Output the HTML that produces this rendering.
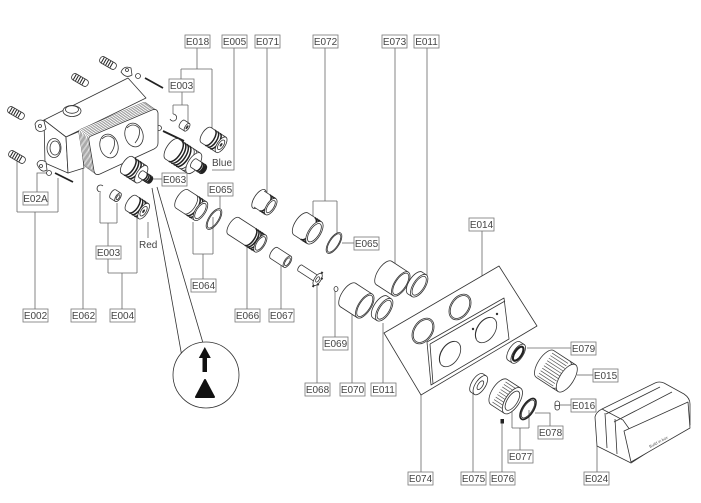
<!DOCTYPE html>
<html><head><meta charset="utf-8"><style>
html,body{margin:0;padding:0;background:#fff;}
svg{display:block;}
.p{fill:#fff;stroke:#333;stroke-width:0.8;stroke-linejoin:round}
.n{fill:none;stroke:#333;stroke-width:0.8}
.k{fill:none;stroke:#222;stroke-width:1.5}
.l{fill:none;stroke:#666;stroke-width:0.8}
.b{fill:#fff;stroke:#777;stroke-width:0.8}
.r{fill:#fff;stroke:#555;stroke-width:0.5;stroke-linejoin:round}
text{font-family:"Liberation Sans",sans-serif;font-size:10px;fill:#444}
</style></head><body>
<svg width="701" height="503" viewBox="0 0 701 503" xmlns="http://www.w3.org/2000/svg">
<defs>
<path id="cov" d="M91,136 L152,110 Q157,108 158,113 L158,143 Q158,147 154,149 L100,174 Q95,176 94,171 L89,141 Q88,137 91,136 Z"/>
<g id="plug"><rect class="p" x="-9" y="-3.5" width="18" height="7" rx="3"/><path d="M-6,-3V3M-3.5,-3V3M-1,-3V3M1.5,-3V3M4,-3V3" stroke="#222" stroke-width="1"/></g>
</defs>
<rect width="701" height="503" fill="#fff"/>

<!-- ============ LEADER LINES ============ -->
<g class="l">
<path d="M197,48V69M181,69H212M181,69V79M212,69V133"/>
<path d="M234,48V170H212"/>
<path d="M182,92V105M173,105H188M173,105V114M188,105V122"/>
<path d="M267,48V193"/>
<path d="M325,48V201M313,201H337M313,201V217M337,201V234"/>
<path d="M395,48V268"/>
<path d="M427,48V283"/>
<path d="M162,179H153"/>
<path d="M220,196V208"/>
<path d="M203,279V254M193,254H213M193,254V222M213,254V217"/>
<path d="M354,243H342"/>
<path d="M247,309V238"/>
<path d="M281,309V263"/>
<path d="M37,192V173H49"/>
<path d="M35,309V212M17,212H58M17,212V160M58,212V178"/>
<path d="M83,309V168"/>
<path d="M122,309V273M108,273H137M108,273V259M137,273V217"/>
<path d="M108,246V223M100,223H117M100,223V193M117,223V203"/>
<path d="M148,222V238"/>
<path d="M482,231V298H470"/>
<path d="M335,337V290"/>
<path d="M317,383V283"/>
<path d="M352,383V305"/>
<path d="M383,383V323"/>
<path d="M421,472V395"/>
<path d="M473,472V386"/>
<path d="M502,472V423"/>
<path d="M520,450V428M512,428H529M512,428V407M529,428V410"/>
<path d="M550,426V413H535"/>
<path d="M571,348H527"/>
<path d="M593,375H577"/>
<path d="M571,405H560"/>
<path d="M597,472V445"/>
</g>
<!-- callout lines -->
<path class="n" d="M152,188L182,357M157,187L203,343" stroke="#444"/>

<!-- ============ HOUSING ============ -->
<use href="#plug" transform="translate(108,63) rotate(30)"/>
<use href="#plug" transform="translate(80,80) rotate(30)"/>
<use href="#plug" transform="translate(16,113) rotate(30)"/>
<use href="#plug" transform="translate(17,157) rotate(30)"/>
<!-- screws -->
<path d="M145,78L163,88" stroke="#222" stroke-width="1.8"/>
<path d="M50,127L69,137" stroke="#222" stroke-width="1.8"/>
<path d="M163,131L184,141" stroke="#222" stroke-width="1.8"/>
<path d="M55,173L73,182" stroke="#222" stroke-width="1.8"/>
<circle class="p" cx="138" cy="76" r="2.5"/>
<circle class="p" cx="159" cy="128" r="2.5"/>
<circle class="p" cx="49" cy="173" r="2.5"/>

<!-- body -->
<polygon class="p" points="44,120 128,78 146,98 66,137"/>
<polygon class="p" points="44,120 66,137 68,173 45,163"/>
<polygon class="p" points="66,137 80,131 84,168 68,173"/>
<!-- ears -->
<path class="p" d="M35,124 q3,-6 9,-3 l2,8 q-6,5 -10,0z"/>
<circle class="n" cx="40" cy="126" r="1.5"/>
<path class="p" d="M121,72 q3,-7 10,-4 l1,7 q-6,4 -11,-3z"/>
<circle class="n" cx="127" cy="70" r="1.5"/>
<path class="p" d="M37,164 q2,-6 9,-2 l1,8 q-6,4 -10,-6z"/>
<circle class="n" cx="41" cy="166" r="1.5"/>
<!-- top boss -->
<ellipse class="p" cx="72" cy="111" rx="9" ry="5.5"/>
<ellipse class="n" cx="72" cy="109.5" rx="6.5" ry="3.8"/>
<!-- left port -->
<ellipse class="p" cx="54" cy="148" rx="7" ry="9.5"/>
<ellipse class="n" cx="55" cy="148" rx="5" ry="7"/>

<!-- ribbed cover -->
<use href="#cov" class="r" transform="translate(-10,-7)"/>
<use href="#cov" class="r" transform="translate(-8.6,-6)"/>
<use href="#cov" class="r" transform="translate(-7.2,-5)"/>
<use href="#cov" class="r" transform="translate(-5.8,-4)"/>
<use href="#cov" class="r" transform="translate(-4.4,-3)"/>
<use href="#cov" class="r" transform="translate(-3,-2)"/>
<use href="#cov" class="r" transform="translate(-1.5,-1)"/>
<use href="#cov" class="p"/>
<ellipse class="p" cx="109" cy="146" rx="9" ry="12" transform="rotate(-15 109 146)"/>
<path class="n" d="M102,139 q6,-6 12,0 q2,8 -4,15"/>
<ellipse class="p" cx="134" cy="135" rx="9" ry="12" transform="rotate(-15 134 135)"/>
<path class="n" d="M127,128 q6,-6 12,0 q2,8 -4,15"/>

<!-- ============ CARTRIDGES ============ -->
<path class="n" d="M173,114 a3.5,3.5 0 1 1 -3,5" stroke-width="1"/>
<g transform="translate(182,124) rotate(33)"><ellipse class="p" rx="2" ry="4.5"/><rect y="-4.5" width="6" height="9" fill="#fff"/><path class="n" d="M0,-4.5H6M0,4.5H6"/><ellipse class="p" cx="6" rx="2" ry="4.5"/><ellipse cx="6" rx="1" ry="2.2" fill="#333"/></g>

<!-- E018 -->
<g transform="translate(206,135) rotate(33)"><ellipse class="p" rx="4" ry="9"/><rect y="-9" width="18" height="18" fill="#fff"/><path class="n" d="M0,-9H18M0,9H18"/>
<path class="k" d="M5,-9A4,9 0 0 1 5,9M8,-9A4,9 0 0 1 8,9M11,-9A4,9 0 0 1 11,9"/>
<ellipse class="p" cx="18" rx="4" ry="9"/><ellipse class="n" cx="18" rx="2.5" ry="5.5"/><ellipse cx="18" rx="1" ry="2" fill="#333"/></g>

<!-- E005 -->
<g transform="translate(172,149) rotate(33)"><ellipse class="p" rx="5.5" ry="12"/><rect y="-12" width="26" height="24" fill="#fff"/><path class="n" d="M0,-12H26M0,12H26"/>
<path class="k" d="M4,-12A5.5,12 0 0 1 4,12M7,-12A5.5,12 0 0 1 7,12M10,-12A5.5,12 0 0 1 10,12M13,-12A5.5,12 0 0 1 13,12"/>
<path class="n" d="M17,-12A5.5,12 0 0 1 17,12M20,-12A5.5,12 0 0 1 20,12"/>
<ellipse class="p" cx="26" rx="5.5" ry="12"/>
<ellipse class="p" cx="26" rx="2.3" ry="5"/><rect x="26" y="-5" width="12" height="10" fill="#fff"/><path class="n" d="M26,-5H38M26,5H38"/>
<path class="k" d="M32,-5A2.3,5 0 0 1 32,5M34,-5A2.3,5 0 0 1 34,5M36,-5A2.3,5 0 0 1 36,5" stroke-width="1.2"/>
<ellipse cx="38" rx="2.3" ry="5" fill="#222"/></g>
<text x="212" y="166">Blue</text>

<!-- E063 -->
<g transform="translate(127,165) rotate(33)"><ellipse class="p" rx="4.5" ry="10"/><rect y="-10" width="17" height="20" fill="#fff"/><path class="n" d="M0,-10H17M0,10H17"/>
<path class="k" d="M3,-10A4.5,10 0 0 1 3,10M6,-10A4.5,10 0 0 1 6,10M9,-10A4.5,10 0 0 1 9,10"/>
<path class="n" d="M12,-10A4.5,10 0 0 1 12,10"/>
<ellipse class="p" cx="17" rx="4.5" ry="10"/>
<ellipse class="p" cx="17" rx="2" ry="4"/><rect x="17" y="-4" width="11" height="8" fill="#fff"/><path class="n" d="M17,-4H28M17,4H28"/>
<path class="k" d="M21,-4A2,4 0 0 1 21,4M23,-4A2,4 0 0 1 23,4M25,-4A2,4 0 0 1 25,4" stroke-width="1.2"/>
<ellipse cx="28" rx="2" ry="4" fill="#222"/></g>

<!-- E003 lower -->
<path class="n" d="M103,186 a3.5,3.5 0 1 0 -2,6" stroke-width="1"/>
<g transform="translate(113,194) rotate(33)"><ellipse class="p" rx="2.3" ry="5"/><rect y="-5" width="6" height="10" fill="#fff"/><path class="n" d="M0,-5H6M0,5H6"/><ellipse class="p" cx="6" rx="2.3" ry="5"/><ellipse class="n" cx="6" rx="1.2" ry="2.8"/></g>

<!-- E004 red -->
<g transform="translate(131,203) rotate(33)"><ellipse class="p" rx="4" ry="9"/><rect y="-9" width="15" height="18" fill="#fff"/><path class="n" d="M0,-9H15M0,9H15"/>
<path class="k" d="M4,-9A4,9 0 0 1 4,9M7,-9A4,9 0 0 1 7,9M10,-9A4,9 0 0 1 10,9"/>
<ellipse class="p" cx="15" rx="4" ry="9"/><ellipse class="n" cx="15" rx="2.5" ry="5.5"/><ellipse cx="15" rx="1" ry="2" fill="#333"/></g>
<text x="139" y="248">Red</text>

<!-- ============ MIDDLE PARTS ============ -->
<g transform="translate(182,199) rotate(33)"><ellipse class="p" rx="5" ry="11"/><rect y="-11" width="22" height="22" fill="#fff"/><path class="n" d="M0,-11H22M0,11H22"/>
<path class="k" d="M13,-11A5,11 0 0 1 13,11M16,-11A5,11 0 0 1 16,11" stroke-width="1.3"/>
<path class="n" d="M10,-11A5,11 0 0 1 10,11"/>
<ellipse class="p" cx="22" rx="5" ry="11"/><ellipse class="n" cx="22" rx="3.8" ry="8.8"/></g>
<g transform="translate(214,219) rotate(33)"><ellipse class="n" rx="5.2" ry="12"/><ellipse class="n" rx="4.2" ry="10.5"/></g>

<g transform="translate(259,199) rotate(33)"><ellipse class="p" rx="4.8" ry="11"/><rect y="-9.5" width="14" height="19" fill="#fff"/><path class="n" d="M0,-9.5H14M0,9.5H14"/>
<path class="k" d="M7,-9.5A4.3,9.5 0 0 1 7,9.5M9.5,-9.5A4.3,9.5 0 0 1 9.5,9.5M12,-9.5A4.3,9.5 0 0 1 12,9.5" stroke-width="1.4"/>
<ellipse class="p" cx="14" rx="4.3" ry="9.5"/><ellipse class="n" cx="14" rx="3" ry="7"/></g>

<g transform="translate(233.5,226) rotate(33)"><ellipse class="p" rx="4.5" ry="10"/><rect y="-10" width="32" height="20" fill="#fff"/><path class="n" d="M0,-10H32M0,10H32"/>
<path class="k" d="M20,-10A4.5,10 0 0 1 20,10M22.5,-10A4.5,10 0 0 1 22.5,10M25,-10A4.5,10 0 0 1 25,10M27.5,-10A4.5,10 0 0 1 27.5,10" stroke-width="1.6"/>
<ellipse class="p" cx="32" rx="4.5" ry="10"/><ellipse class="n" cx="32" rx="3.4" ry="7.8"/></g>

<g transform="translate(274,253) rotate(33)"><ellipse class="p" rx="3" ry="6.5"/><rect y="-6.5" width="16" height="13" fill="#fff"/><path class="n" d="M0,-6.5H16M0,6.5H16"/>
<ellipse class="p" cx="16" rx="3" ry="6.5"/><ellipse class="n" cx="16" rx="2" ry="4.5"/></g>

<g transform="translate(300,268) rotate(33)"><ellipse class="p" rx="1.6" ry="3.5"/><rect y="-3.5" width="20" height="7" fill="#fff"/><path class="n" d="M0,-3.5H20M0,3.5H20"/>
<ellipse class="p" cx="21" rx="3.2" ry="7"/>
<path d="M20,-9h2v2h-2zM20,7h2v2h-2zM23,-4h2v2h-2zM23,3h2v2h-2z" fill="#333"/>
<ellipse class="n" cx="21" rx="1.5" ry="3"/></g>
<ellipse class="p" cx="336" cy="289" rx="2" ry="2.5"/>

<g transform="translate(301,224) rotate(33)"><ellipse class="p" rx="6" ry="13"/><rect y="-13" width="16" height="26" fill="#fff"/><path class="n" d="M0,-13H16M0,13H16"/>
<path class="k" d="M8,-13A6,13 0 0 1 8,13M10.5,-13A6,13 0 0 1 10.5,13M13,-13A6,13 0 0 1 13,13" stroke-width="1.4"/>
<ellipse class="p" cx="16" rx="6" ry="13"/><ellipse class="n" cx="16" rx="4.7" ry="10.5"/></g>
<g transform="translate(334,243) rotate(33)"><ellipse class="n" rx="5.2" ry="12"/><ellipse class="n" rx="4.3" ry="10.6"/></g>

<g transform="translate(384,273) rotate(33)"><ellipse class="p" rx="6.3" ry="14"/><rect y="-14" width="20" height="28" fill="#fff"/><path class="n" d="M0,-14H20M0,14H20"/>
<ellipse class="p" cx="20" rx="6.3" ry="14"/><ellipse class="n" cx="20" rx="5.3" ry="12.3"/></g>
<g transform="translate(415,283) rotate(33)"><ellipse class="p" rx="6" ry="13"/><rect y="-13" width="5" height="26" fill="#fff"/><path class="n" d="M0,-13H5M0,13H5"/>
<ellipse class="p" cx="5" rx="6" ry="13" stroke-width="1.2"/><ellipse class="n" cx="5" rx="4.8" ry="10.8" stroke-width="1.2"/></g>

<g transform="translate(348,295) rotate(33)"><ellipse class="p" rx="6.3" ry="14"/><rect y="-14" width="20" height="28" fill="#fff"/><path class="n" d="M0,-14H20M0,14H20"/>
<ellipse class="p" cx="20" rx="6.3" ry="14"/><ellipse class="n" cx="20" rx="5.3" ry="12.3"/></g>
<g transform="translate(380,307) rotate(33)"><ellipse class="p" rx="6" ry="13"/><rect y="-13" width="5" height="26" fill="#fff"/><path class="n" d="M0,-13H5M0,13H5"/>
<ellipse class="p" cx="5" rx="6" ry="13" stroke-width="1.2"/><ellipse class="n" cx="5" rx="4.8" ry="10.8" stroke-width="1.2"/></g>

<!-- ============ PLATES ============ -->
<polygon class="p" points="384,333 499,266 537,326 421,395"/>
<g transform="translate(460,307) rotate(33)"><ellipse class="n" rx="9.5" ry="14"/><ellipse class="n" rx="8.3" ry="12.6"/></g>
<g transform="translate(423,331) rotate(33)"><ellipse class="n" rx="9.5" ry="14"/><ellipse class="n" rx="8.3" ry="12.6"/></g>
<polygon class="p" points="427,342 504,298 509,339 431,385"/>
<path class="n" d="M430,344 L505,301 M430,344 L433,384"/>
<g transform="translate(450,354) rotate(33)"><ellipse class="p" rx="9" ry="14"/><path class="n" d="M-3,-13 A9,14 0 0 0 -3,13" stroke-width="1.3"/></g>
<g transform="translate(486,330) rotate(33)"><ellipse class="p" rx="9" ry="14"/><path class="n" d="M-3,-13 A9,14 0 0 0 -3,13" stroke-width="1.3"/></g>
<circle cx="473" cy="329" r="1.2" fill="#333"/>
<circle cx="497" cy="314" r="1.2" fill="#333"/>

<!-- ============ RIGHT PARTS ============ -->
<g transform="translate(514,351) rotate(33)"><ellipse class="p" rx="5" ry="11"/><rect y="-11" width="5" height="22" fill="#fff"/><path class="n" d="M0,-11H5M0,11H5"/>
<ellipse class="p" cx="5" rx="5" ry="11"/><ellipse cx="5" rx="3.6" ry="8" fill="none" stroke="#222" stroke-width="2.2"/></g>

<g transform="translate(545,364) rotate(33)"><ellipse class="p" rx="7" ry="16"/><rect y="-16" width="26" height="32" fill="#fff"/><path class="n" d="M0,-16H26M0,16H26"/>
<path d="M0,-13H19M0,-10H19M0,-7H19M0,-4H19M0,-1H19M0,2H19M0,5H19M0,8H19M0,11H19M0,14H19" stroke="#555" stroke-width="0.7"/>
<path class="n" d="M19,-16A7,16 0 0 1 19,16"/>
<ellipse class="p" cx="26" rx="7" ry="16"/></g>

<rect class="p" x="555" y="401" width="4.5" height="9" rx="2.2"/>
<path class="n" d="M555,405.5h4.5"/>

<g transform="translate(477,383) rotate(33)"><ellipse class="p" rx="5" ry="11"/><rect y="-11" width="4" height="22" fill="#fff"/><path class="n" d="M0,-11H4M0,11H4"/>
<ellipse class="p" cx="4" rx="5" ry="11"/><ellipse class="n" cx="4" rx="2.3" ry="5" stroke="#888"/></g>

<g transform="translate(499,392) rotate(33)"><ellipse class="p" rx="7" ry="15"/><rect y="-15" width="16" height="30" fill="#fff"/><path class="n" d="M0,-15H16M0,15H16"/>
<path d="M0,-12H16M0,-9H16M0,-6H16M0,-3H16M0,0H16M0,3H16M0,6H16M0,9H16M0,12H16" stroke="#555" stroke-width="0.7"/>
<ellipse class="p" cx="16" rx="7" ry="15"/><ellipse class="n" cx="16" rx="5" ry="11"/></g>
<g transform="translate(528,409) rotate(33)"><ellipse fill="none" stroke="#222" stroke-width="1.6" rx="5.5" ry="12"/><ellipse class="n" rx="4.3" ry="10.3"/></g>
<rect x="500.5" y="419" width="3.5" height="4.5" fill="#222"/>

<!-- E024 box -->
<path class="p" d="M595,417 Q596,412 602,409 L655,383 Q659,381 664,383 L684,394 Q690,398 690,404 L690,425 L631,463 L597,446 Z"/>
<path class="n" d="M602,409 L623,420 L630,430 M606,414 L660,387 M614,422 L672,392"/>
<path class="n" d="M605,413 L607,448 M615,419 L617,454"/>
<path class="p" d="M624,431 L688,402 L690,428 L631,462 Z" stroke="#222"/>
<text x="0" y="0" transform="translate(650,448) rotate(-28)" style="font-size:4px;fill:#555">Build in box</text>

<!-- ============ CALLOUT CIRCLE ============ -->
<circle cx="206" cy="375" r="33" class="p" stroke="#444"/>
<rect x="202.5" y="357" width="4.5" height="15" fill="#111"/>
<polygon points="204.8,347 198.8,358 210.8,358" fill="#111"/>
<polygon points="205,380 196,397 214,397" fill="#111" stroke="#111" stroke-width="2" stroke-linejoin="round"/>

<!-- ============ LABELS ============ -->
<g>
<rect class="b" x="185" y="35" width="25" height="13"/><text x="197.5" y="45" text-anchor="middle">E018</text>
<rect class="b" x="222" y="35" width="25" height="13"/><text x="234.5" y="45" text-anchor="middle">E005</text>
<rect class="b" x="255" y="35" width="25" height="13"/><text x="267.5" y="45" text-anchor="middle">E071</text>
<rect class="b" x="313" y="35" width="25" height="13"/><text x="325.5" y="45" text-anchor="middle">E072</text>
<rect class="b" x="382" y="35" width="25" height="13"/><text x="394.5" y="45" text-anchor="middle">E073</text>
<rect class="b" x="414" y="35" width="25" height="13"/><text x="426.5" y="45" text-anchor="middle">E011</text>
<rect class="b" x="169" y="79" width="25" height="13"/><text x="181.5" y="89" text-anchor="middle">E003</text>
<rect class="b" x="162" y="173" width="25" height="13"/><text x="174.5" y="183" text-anchor="middle">E063</text>
<rect class="b" x="208" y="183" width="25" height="13"/><text x="220.5" y="193" text-anchor="middle">E065</text>
<rect class="b" x="354" y="237" width="25" height="13"/><text x="366.5" y="247" text-anchor="middle">E065</text>
<rect class="b" x="23" y="192" width="25" height="13"/><text x="35.5" y="202" text-anchor="middle">E02A</text>
<rect class="b" x="96" y="246" width="25" height="13"/><text x="108.5" y="256" text-anchor="middle">E003</text>
<rect class="b" x="191" y="279" width="25" height="13"/><text x="203.5" y="289" text-anchor="middle">E064</text>
<rect class="b" x="23" y="309" width="25" height="13"/><text x="35.5" y="319" text-anchor="middle">E002</text>
<rect class="b" x="71" y="309" width="25" height="13"/><text x="83.5" y="319" text-anchor="middle">E062</text>
<rect class="b" x="110" y="309" width="25" height="13"/><text x="122.5" y="319" text-anchor="middle">E004</text>
<rect class="b" x="235" y="309" width="25" height="13"/><text x="247.5" y="319" text-anchor="middle">E066</text>
<rect class="b" x="269" y="309" width="25" height="13"/><text x="281.5" y="319" text-anchor="middle">E067</text>
<rect class="b" x="323" y="337" width="25" height="13"/><text x="335.5" y="347" text-anchor="middle">E069</text>
<rect class="b" x="305" y="383" width="25" height="13"/><text x="317.5" y="393" text-anchor="middle">E068</text>
<rect class="b" x="340" y="383" width="25" height="13"/><text x="352.5" y="393" text-anchor="middle">E070</text>
<rect class="b" x="371" y="383" width="25" height="13"/><text x="383.5" y="393" text-anchor="middle">E011</text>
<rect class="b" x="469" y="218" width="25" height="13"/><text x="481.5" y="228" text-anchor="middle">E014</text>
<rect class="b" x="571" y="342" width="25" height="13"/><text x="583.5" y="352" text-anchor="middle">E079</text>
<rect class="b" x="593" y="369" width="25" height="13"/><text x="605.5" y="379" text-anchor="middle">E015</text>
<rect class="b" x="571" y="399" width="25" height="13"/><text x="583.5" y="409" text-anchor="middle">E016</text>
<rect class="b" x="538" y="426" width="25" height="13"/><text x="550.5" y="436" text-anchor="middle">E078</text>
<rect class="b" x="508" y="450" width="25" height="13"/><text x="520.5" y="460" text-anchor="middle">E077</text>
<rect class="b" x="408" y="472" width="25" height="13"/><text x="420.5" y="482" text-anchor="middle">E074</text>
<rect class="b" x="461" y="472" width="25" height="13"/><text x="473.5" y="482" text-anchor="middle">E075</text>
<rect class="b" x="490" y="472" width="25" height="13"/><text x="502.5" y="482" text-anchor="middle">E076</text>
<rect class="b" x="584" y="472" width="25" height="13"/><text x="596.5" y="482" text-anchor="middle">E024</text>
</g>
</svg>
</body></html>
